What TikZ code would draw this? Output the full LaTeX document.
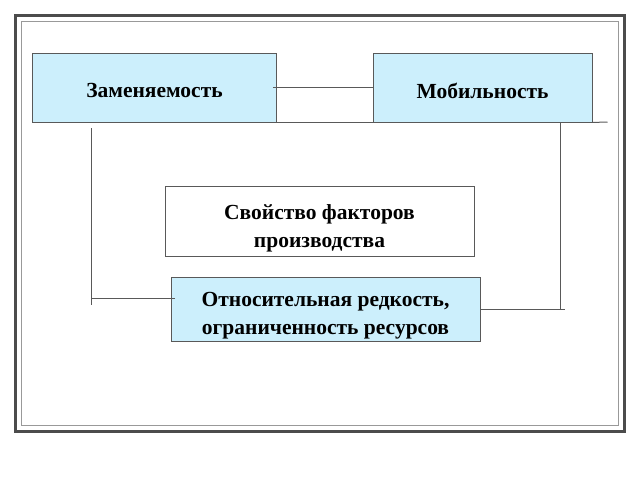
\documentclass[tikz,border=0pt]{standalone}
\usepackage{fontspec}
\setmainfont{Liberation Serif}
\begin{document}
\begin{tikzpicture}[x=1pt,y=-1pt,
  txt/.style={font=\fontsize{21.5}{28}\selectfont\bfseries,align=center,inner sep=0pt},
  box/.style={draw=black!65,line width=0.9pt,inner sep=0pt},
  cyanbox/.style={box,fill=cyan!20},
  conn/.style={draw=black!65,line width=1pt}]
\useasboundingbox (0,0) rectangle (640,480);
\draw[black!70,line width=3pt] (15.5,15.5) rectangle (624,431);
\draw[black!40,line width=1pt] (21,21) rectangle (618.5,425);
\node[cyanbox,minimum width=244pt,minimum height=69pt,
  label={[txt,yshift=-3pt]center:Заменяемость}] (zam) at (154.5,87.5) {};
\node[cyanbox,minimum width=219pt,minimum height=69pt,
  label={[txt,yshift=-3pt]center:Мобильность}] (mob) at (482.5,87.5) {};
\node[box,fill=white,minimum width=309pt,minimum height=70pt,
  label={[txt,yshift=-7pt]center:{Свойство факторов\\производства}}] (sv) at (319.5,221) {};
\node[cyanbox,minimum width=309pt,minimum height=64pt,
  label={[txt,yshift=-7pt]center:{Относительная редкость,\\ограниченность ресурсов}}] (otn) at (325.5,309) {};
\coordinate (rend) at (607.5,122);
\coordinate (lv) at (91,128);
\coordinate (lc) at (91,298.5);
\coordinate (rv) at (560,122);
\coordinate (rc) at (565,309);
\draw[conn] ([xshift=-4pt]zam.east) -- (mob.west);
\draw[conn] (zam.south east) -- (mob.south west);
\draw[conn] (mob.south east) -- (rend);
\draw[conn] (lv) -- ([yshift=-6pt]lc);
\draw[conn] (lc) -- ([xshift=4pt]otn.west |- lc);
\draw[conn] (rv) -- (560,309);
\draw[conn] (otn.east |- rc) -- (rc);
\end{tikzpicture}
\end{document}
